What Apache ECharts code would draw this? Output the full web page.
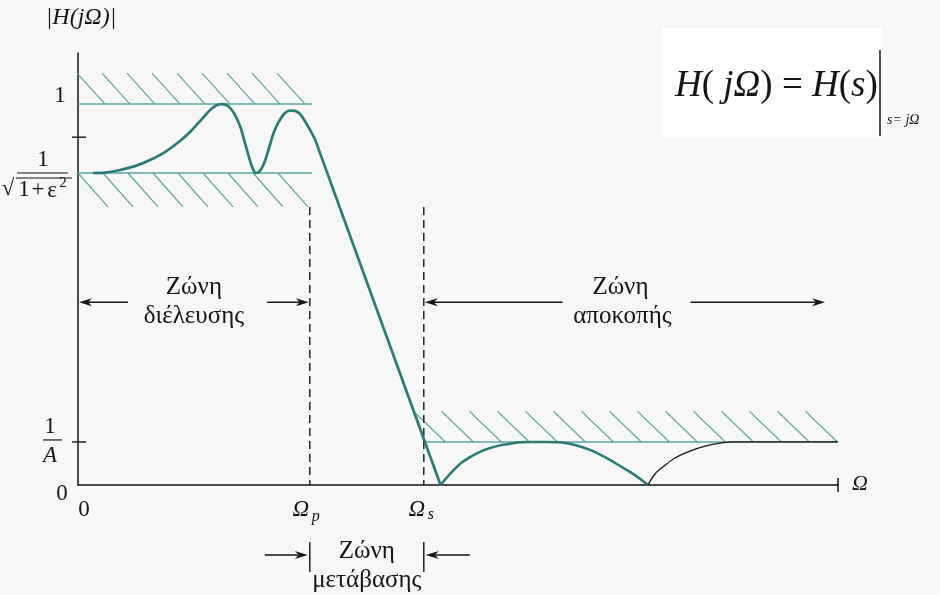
<!DOCTYPE html>
<html><head><meta charset="utf-8">
<script src="https://cdn.jsdelivr.net/npm/echarts@6/dist/echarts.min.js"></script>
<style>html,body{margin:0;padding:0;background:#f7f7f7}#chart{width:940px;height:595px}</style>
</head><body><div id="chart"></div>
<script>
// ---------- data (frequency in arbitrary units 0..100, magnitude normalised to passband max = 1) ----------
const X_MAX = 100;
const Y_MAX = 1.134;
const OMEGA_P = 30.5;          // passband edge
const OMEGA_S = 45.5;          // stopband edge
const PASS_MAX = 1.0;          // 1
const PASS_MIN = 0.819;        // 1/sqrt(1+eps^2)
const STOP_MAX = 0.113;        // 1/A
const MID_TICK = 0.913;
const STOP_ZONE_END = 98.3;
const ZONE_ARROW_Y = 0.480;
const TRANSITION_ARROW_Y = -0.184;
const DASH_TOP = 0.730;

const passbandCurve = [[1.97,0.819],[3.55,0.820],[5.53,0.827],[7.50,0.837],[9.47,0.853],[11.45,0.874],
  [13.42,0.903],[15.0,0.932],[16.32,0.961],[17.37,0.984],[18.16,0.996],[18.95,1.0],[19.74,0.995],
  [20.53,0.976],[21.32,0.942],[21.97,0.898],[22.63,0.852],[23.0,0.830],[23.42,0.819],[23.9,0.823],
  [24.5,0.845],[25.1,0.882],[25.7,0.922],[26.32,0.950],[27.11,0.974],[27.89,0.983],[28.55,0.982],
  [29.21,0.974],[29.87,0.955],[30.53,0.932],[31.18,0.908]];
const transitionLine = [[31.18,0.908],[47.7,0.0]];
const stopbandLobe = [[47.7,0.0],[48.95,0.029],[50.26,0.055],[51.58,0.073],[52.89,0.087],[54.21,0.097],
  [55.53,0.104],[56.84,0.108],[58.16,0.112],[59.47,0.113],[61.45,0.113],[63.42,0.112],[65.39,0.105],
  [67.37,0.092],[69.34,0.073],[71.32,0.050],[73.29,0.026],[75.0,0.0]];
const tailLobe = [[75.0,0.0],[75.92,0.029],[77.24,0.052],[78.55,0.071],[80.53,0.089],[82.5,0.102],
  [84.47,0.110],[86.45,0.113],[100,0.113]];
// hatched tolerance bands: [xStart, xEnd, limit, outer edge]
const hatchRegions = [[0,30.8,PASS_MAX,1.081],[0,30.8,PASS_MIN,0.730],[45.7,100,STOP_MAX,0.194]];
const edgeFreqs = [OMEGA_P, OMEGA_S];
const yTickValues = [STOP_MAX, MID_TICK];

// ---------- styles ----------
const CURVE = '#2c7a76', LIMIT = '#5aa6a3', INK = '#151515';
const SERIF = 'Liberation Serif, Times New Roman, serif';
const HATCH_STYLE = [{offset:27,step:25,dx:28},{offset:0,step:25,dx:30},{offset:20,step:28,dx:32}];

function seg(x1,y1,x2,y2,stroke,w,dash){return {type:'line',shape:{x1,y1,x2,y2},style:{stroke,lineWidth:w,lineDash:dash||null}};}
function txt(x,y,text,size,italic,align,va){return {type:'text',x,y,style:{text,fontSize:size,fontFamily:SERIF,fontStyle:italic?'italic':'normal',fill:INK,align:align||'center',verticalAlign:va||'middle'}};}
function arrow(tx,ty,hx,hy){
  const dir = hx>tx?1:-1, L=13, W=4;
  return [seg(tx,ty,hx-dir*L*0.6,hy,INK,1.5),
    {type:'polygon',shape:{points:[[hx,hy],[hx-dir*L,hy-W],[hx-dir*L*0.7,hy],[hx-dir*L,hy+W]]},style:{fill:INK}}];
}

const chart = echarts.init(document.getElementById('chart'));
const option = {
  animation:false,
  backgroundColor:'#f7f7f7',
  grid:{left:78,right:102,top:53,bottom:110,containLabel:false},
  xAxis:{type:'value',min:0,max:X_MAX,axisLine:{show:true,lineStyle:{color:INK,width:1.5}},axisTick:{show:false},axisLabel:{show:false},splitLine:{show:false}},
  yAxis:{type:'value',min:0,max:Y_MAX,axisLine:{show:true,lineStyle:{color:INK,width:1.5}},axisTick:{show:false},axisLabel:{show:false},splitLine:{show:false}},
  graphic:[
    {type:'rect',left:662,top:28,shape:{width:220,height:110},style:{fill:'#ffffff'},z:0},
    {type:'text',x:675,y:86,style:{text:'{i|H}{n|( }{i|jΩ}{n|) = }{i|H}{n|(}{i|s}{n|)}',verticalAlign:'middle',
      rich:{i:{fontSize:37,fontFamily:SERIF,fontStyle:'italic',fill:INK},n:{fontSize:37,fontFamily:SERIF,fill:INK}}},z:5},
    {type:'line',shape:{x1:880,y1:50,x2:880,y2:136},style:{stroke:INK,lineWidth:1.5},z:5},
    {type:'text',x:887,y:120,style:{text:'s= jΩ',fontSize:14,fontFamily:SERIF,fontStyle:'italic',fill:INK,verticalAlign:'middle'},z:5}
  ],
  series:[
    {type:'custom',name:'hatch',coordinateSystem:'cartesian2d',z:2,silent:true,
      data:hatchRegions,
      renderItem:function(params,api){
        const st = HATCH_STYLE[params.dataIndex];
        const a = api.coord([api.value(0),api.value(2)]);
        const b = api.coord([api.value(1),api.value(2)]);
        const o = api.coord([api.value(0),api.value(3)]);
        const ch = [seg(a[0],a[1],b[0],b[1],LIMIT,1.6)];
        const above = o[1] < a[1];
        for(let px=a[0]+st.offset; ; px+=st.step){
          if(above){ if(px>b[0]+1) break; ch.push(seg(px-st.dx,o[1],px,a[1],LIMIT,1.2)); }
          else { if(px+st.dx>b[0]+2) break; ch.push(seg(px,a[1],px+st.dx,o[1],LIMIT,1.2)); }
        }
        return {type:'group',children:ch};
      }},
    {type:'custom',name:'edges',coordinateSystem:'cartesian2d',z:2,silent:true,
      data:edgeFreqs.map(f=>[f,DASH_TOP]),
      renderItem:function(params,api){
        const t = api.coord([api.value(0),api.value(1)]), b = api.coord([api.value(0),0]);
        return seg(t[0],t[1],b[0],b[1],INK,1.4,[8,5]);
      }},
    {type:'line',name:'passband',data:passbandCurve,smooth:0.3,symbol:'none',z:4,lineStyle:{color:CURVE,width:2.7}},
    {type:'line',name:'transition',data:transitionLine,symbol:'none',z:4,lineStyle:{color:CURVE,width:2.7}},
    {type:'line',name:'stopband',data:stopbandLobe,smooth:0.3,symbol:'none',z:4,lineStyle:{color:CURVE,width:2.5}},
    {type:'line',name:'tail',data:tailLobe,smooth:0.3,symbol:'none',z:4,lineStyle:{color:INK,width:1.3}},
    {type:'custom',name:'annotations',coordinateSystem:'cartesian2d',z:6,silent:true,data:[[0,0]],
      renderItem:function(params,api){
        const c = (x,y)=>api.coord([x,y]);
        const o = c(0,0), top = c(0,Y_MAX), end = c(X_MAX,0);
        const p = c(OMEGA_P,0), s = c(OMEGA_S,0);
        const ch = [];
        // axis title & end label
        ch.push(txt(top[0]+3,top[1]-35,'|H(jΩ)|',24,true));
        ch.push(txt(end[0]+14,end[1]-1,'Ω',22,true,'left'));
        ch.push(seg(end[0],end[1]-7,end[0],end[1]+7,INK,1.5));
        // y ticks
        yTickValues.forEach(v=>{const t=c(0,v); ch.push(seg(t[0]-6,t[1],t[0]+8,t[1],INK,1.4));});
        // zeros
        ch.push(txt(o[0]-16,o[1]+9,'0',23));
        ch.push(txt(o[0]+6,o[1]+25,'0',23));
        // Omega_p, Omega_s
        ch.push(txt(p[0]-9,p[1]+25,'Ω',23,true));
        ch.push(txt(p[0]+6,p[1]+32,'p',16,true));
        ch.push(txt(s[0]-7,s[1]+25,'Ω',23,true));
        ch.push(txt(s[0]+7,s[1]+30,'s',16,true));
        // y = 1
        const y1 = c(0,PASS_MAX);
        ch.push(txt(y1[0]-18,y1[1]-8,'1',23));
        // 1/sqrt(1+eps^2)
        const yr = c(0,PASS_MIN);
        ch.push(txt(yr[0]-35,yr[1]-13,'1',23));
        ch.push(seg(yr[0]-61,yr[1],yr[0]-10,yr[1],INK,1.2));
        ch.push(txt(yr[0]-70,yr[1]+16,'√',23));
        ch.push(seg(yr[0]-62,yr[1]+5,yr[0]-6,yr[1]+5,INK,1.1));
        ch.push(txt(yr[0]-54,yr[1]+17,'1',23));
        ch.push(txt(yr[0]-40,yr[1]+17,'+',23));
        ch.push(txt(yr[0]-26,yr[1]+18,'ε',23));
        ch.push(txt(yr[0]-15,yr[1]+10,'2',15));
        // 1/A
        const ya = c(0,STOP_MAX);
        ch.push(txt(ya[0]-28,ya[1]-15,'1',23));
        ch.push(seg(ya[0]-35,ya[1]-2,ya[0]-16,ya[1]-2,INK,1.2));
        ch.push(txt(ya[0]-28,ya[1]+14,'A',23,true));
        // passband zone
        const z1 = c(OMEGA_P/2,ZONE_ARROW_Y);
        ch.push(txt(z1[0],z1[1]-15,'Ζώνη',25));
        ch.push(txt(z1[0],z1[1]+14,'διέλευσης',25));
        ch.push(...arrow(z1[0]-66,z1[1],o[0]+1,z1[1]));
        ch.push(...arrow(z1[0]+73,z1[1],p[0]-1,z1[1]));
        // stopband zone
        const z2 = c((OMEGA_S+STOP_ZONE_END)/2,ZONE_ARROW_Y), ze = c(STOP_ZONE_END,ZONE_ARROW_Y);
        ch.push(txt(z2[0]-4,z2[1]-15,'Ζώνη',25));
        ch.push(txt(z2[0]-2,z2[1]+14,'αποκοπής',25));
        ch.push(...arrow(z2[0]-62,z2[1],s[0]+1,z2[1]));
        ch.push(...arrow(z2[0]+66,z2[1],ze[0],z2[1]));
        // transition zone
        const z3 = c((OMEGA_P+OMEGA_S)/2,TRANSITION_ARROW_Y);
        ch.push(txt(z3[0],z3[1]-4,'Ζώνη',25));
        ch.push(txt(z3[0],z3[1]+25,'μετάβασης',25));
        ch.push(seg(p[0],z3[1]-13,p[0],z3[1]+17,INK,1.4));
        ch.push(seg(s[0],z3[1]-13,s[0],z3[1]+17,INK,1.4));
        ch.push(...arrow(p[0]-45,z3[1],p[0]-2,z3[1]));
        ch.push(...arrow(s[0]+46,z3[1],s[0]+2,z3[1]));
        return {type:'group',children:ch};
      }}
  ]
};
chart.setOption(option);
</script></body></html>
